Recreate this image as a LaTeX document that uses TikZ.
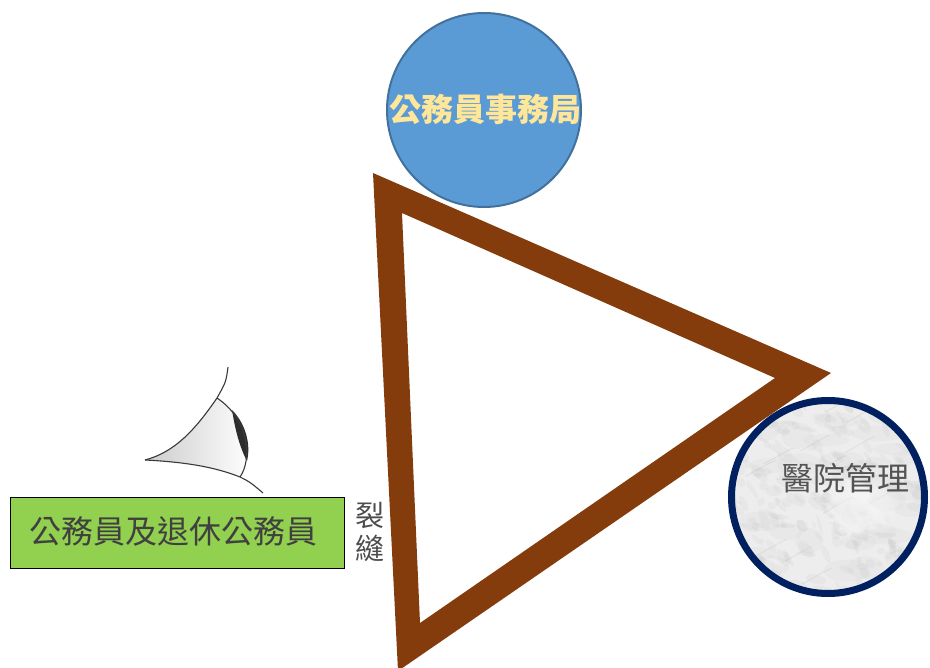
\documentclass[tikz,border=0pt]{standalone}
\usepackage{fontspec}
\newfontfamily\cjk{Noto Sans CJK TC}
\usetikzlibrary{positioning}
\definecolor{wood}{RGB}{132,60,12}
\definecolor{sky}{RGB}{91,155,213}
\definecolor{skyedge}{RGB}{65,113,156}
\definecolor{gold}{RGB}{255,230,153}
\definecolor{grass}{RGB}{146,208,80}
\definecolor{navy}{RGB}{0,32,96}
\definecolor{ink}{RGB}{64,64,64}
\tikzstyle{bubble} = [draw, circle, inner sep=0pt]
\tikzstyle{lid} = [draw, line width=1.1pt, color=gray!45!black]

\begin{document}
\begin{tikzpicture}[x=1pt, y=-1pt,
	word/.style={font=\cjk\fontsize{32}{35}\selectfont, text=ink, inner sep=0pt}]
	\useasboundingbox (0,0) rectangle (930,668);
	%% Triangle
	\fill [wood, even odd rule] (373,173) -- (831,373) -- (398,671) -- cycle
		(402,213) -- (775,378) -- (420,623) -- cycle;
	\node [bubble, fill=sky, draw=skyedge, line width=2pt, minimum size=194pt] (B) at (484,110) {};
	\node [word, font=\cjk\bfseries\fontsize{32}{35}\selectfont, text=gold] (BT) at (485,109) {公務員事務局};
	%% Hospital, marble
	\node [bubble, fill=gray!14, draw=none, minimum size=196pt] (H) at (828,497) {};
	\begin{scope}
		\clip (H) circle (98);
		\pgfmathsetseed{11}
		\foreach \i in {1,...,30} {
			\pgfmathsetmacro\px{rand*90}
			\pgfmathsetmacro\py{rand*90}
			\fill [gray!70, opacity=0.06] (828+\px,497+\py) ellipse ({14+rnd*14} and {6+rnd*8});
		}
		\foreach \i in {1,...,220} {
			\pgfmathsetmacro\px{rand*98}
			\pgfmathsetmacro\py{rand*98}
			\pgfmathsetmacro\rx{3+rnd*10}
			\pgfmathsetmacro\ry{1.5+rnd*4}
			\pgfmathsetmacro\ang{-35+rand*40}
			\fill [gray!80, opacity=0.07, rotate around={\ang:(828+\px,497+\py)}]
				(828+\px,497+\py) ellipse ({\rx} and {\ry});
		}
		\foreach \i in {1,...,14} {
			\pgfmathsetmacro\px{rand*90}
			\pgfmathsetmacro\py{rand*90}
			\draw [gray!70, opacity=0.25, line width=0.6pt]
				(828+\px,497+\py) .. controls +(12,-6) and +(-10,4) .. +(30,-16);
		}
		\foreach \r in {36,32,...,8}
			\fill [white, opacity=0.1] (862,505) circle (\r);
	\end{scope}
	\node [bubble, draw=navy, line width=7pt, minimum size=193pt] at (H) {};
	\node [word, text=gray!65!black] (HT) at (845,478) {醫院管理};
	%% Civil servants
	\node [draw, fill=grass, minimum width=334pt, minimum height=71pt, inner sep=0pt] (C) at (177,532.5) {};
	\node [word] (CT) at (174,531) {公務員及退休公務員};
	\node [word, align=center, font=\cjk\fontsize{29}{33}\selectfont, text=gray!60!black] (R) at (370,532) {裂\\縫};
	%% Eye
	\shade [left color=gray!40, right color=white]
		(217,398) .. controls (195,430) and (175,452) .. (145,460)
		.. controls (185,462) and (215,467) .. (240,477)
		.. controls (252,460) and (250,420) .. (217,398) -- cycle;
	\fill [gray!35!black] (232,410) .. controls (246,424) and (251,445) .. (247,461)
		.. controls (239,446) and (235,428) .. (232,410) -- cycle;
	\path [lid] (228,367) .. controls (226,382) .. (217,398)
		.. controls (195,430) and (175,452) .. (145,460);
	\path [lid] (145,460) .. controls (185,462) and (215,467) .. (240,477)
		.. controls (250,482) .. (263,493);
	\path [lid] (217,398) .. controls (250,420) and (252,460) .. (240,477);
\end{tikzpicture}
\end{document}
